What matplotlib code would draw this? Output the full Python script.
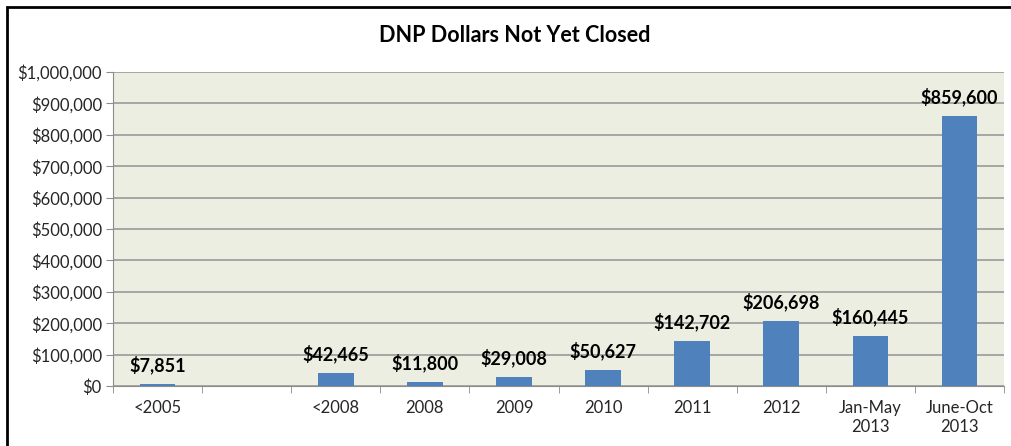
import matplotlib.pyplot as plt
from matplotlib.patches import Rectangle
from matplotlib.ticker import FuncFormatter, FixedLocator
import numpy as np

plt.rcParams["font.family"] = ["Lato", "DejaVu Sans"]

categories = ["<2005", "", "<2008", "2008", "2009", "2010", "2011", "2012",
              "Jan-May\n2013", "June-Oct\n2013"]
values = [7851, None, 42465, 11800, 29008, 50627, 142702, 206698, 160445, 859600]

bar_color = "#4F81BD"
bg_color = "#EBEEE0"

W, H = 1011, 446
fig = plt.figure(figsize=(W / 100, H / 100), dpi=100)

# plot area in pixels
left, right, top, bottom = 113, 1004, 72, 386
ax = fig.add_axes([left / W, 1 - bottom / H, (right - left) / W, (bottom - top) / H])
ax.set_facecolor(bg_color)

x = np.arange(len(categories))
for i, v in enumerate(values):
    if v is None:
        continue
    ax.bar(x[i], v, width=0.4, color=bar_color, zorder=3)
    ax.annotate(f"${v:,}", (x[i], v), xytext=(0, 7), textcoords="offset points",
                ha="center", va="bottom", fontsize=13, fontweight="bold", zorder=4)

ax.set_xlim(-0.5, len(categories) - 0.5)
ax.set_ylim(0, 1000000)
ax.set_yticks(np.arange(0, 1000001, 100000))
ax.yaxis.set_major_formatter(FuncFormatter(lambda v, p: f"${int(v):,}"))
ax.grid(axis="y", color="#9A9A9A", linewidth=1.2, zorder=1)

ax.set_xticks(x)
ax.set_xticklabels(categories, fontsize=12, color="#262626", linespacing=1.25)
ax.xaxis.set_minor_locator(FixedLocator(np.arange(-0.5, len(categories), 1)))
ax.tick_params(axis="x", which="major", length=0, pad=10)
ax.tick_params(axis="x", which="minor", length=5, color="#8C8C8C")
ax.tick_params(axis="y", length=5, color="#8C8C8C", labelsize=12, labelcolor="#262626", pad=3)

for s in ["top", "right"]:
    ax.spines[s].set_visible(False)
ax.spines["left"].set_color("#8C8C8C")
ax.spines["bottom"].set_color("#8C8C8C")

fig.text(515 / W, 1 - 36 / H, "DNP Dollars Not Yet Closed", ha="center", va="center",
         fontsize=15.5, fontweight="bold")

fig.patches.append(Rectangle((7 / W, -0.1), 1.2, 1 - 7 / H + 0.1, transform=fig.transFigure,
                             fill=False, edgecolor="black", linewidth=2))

fig.savefig("out.png", dpi=100)
